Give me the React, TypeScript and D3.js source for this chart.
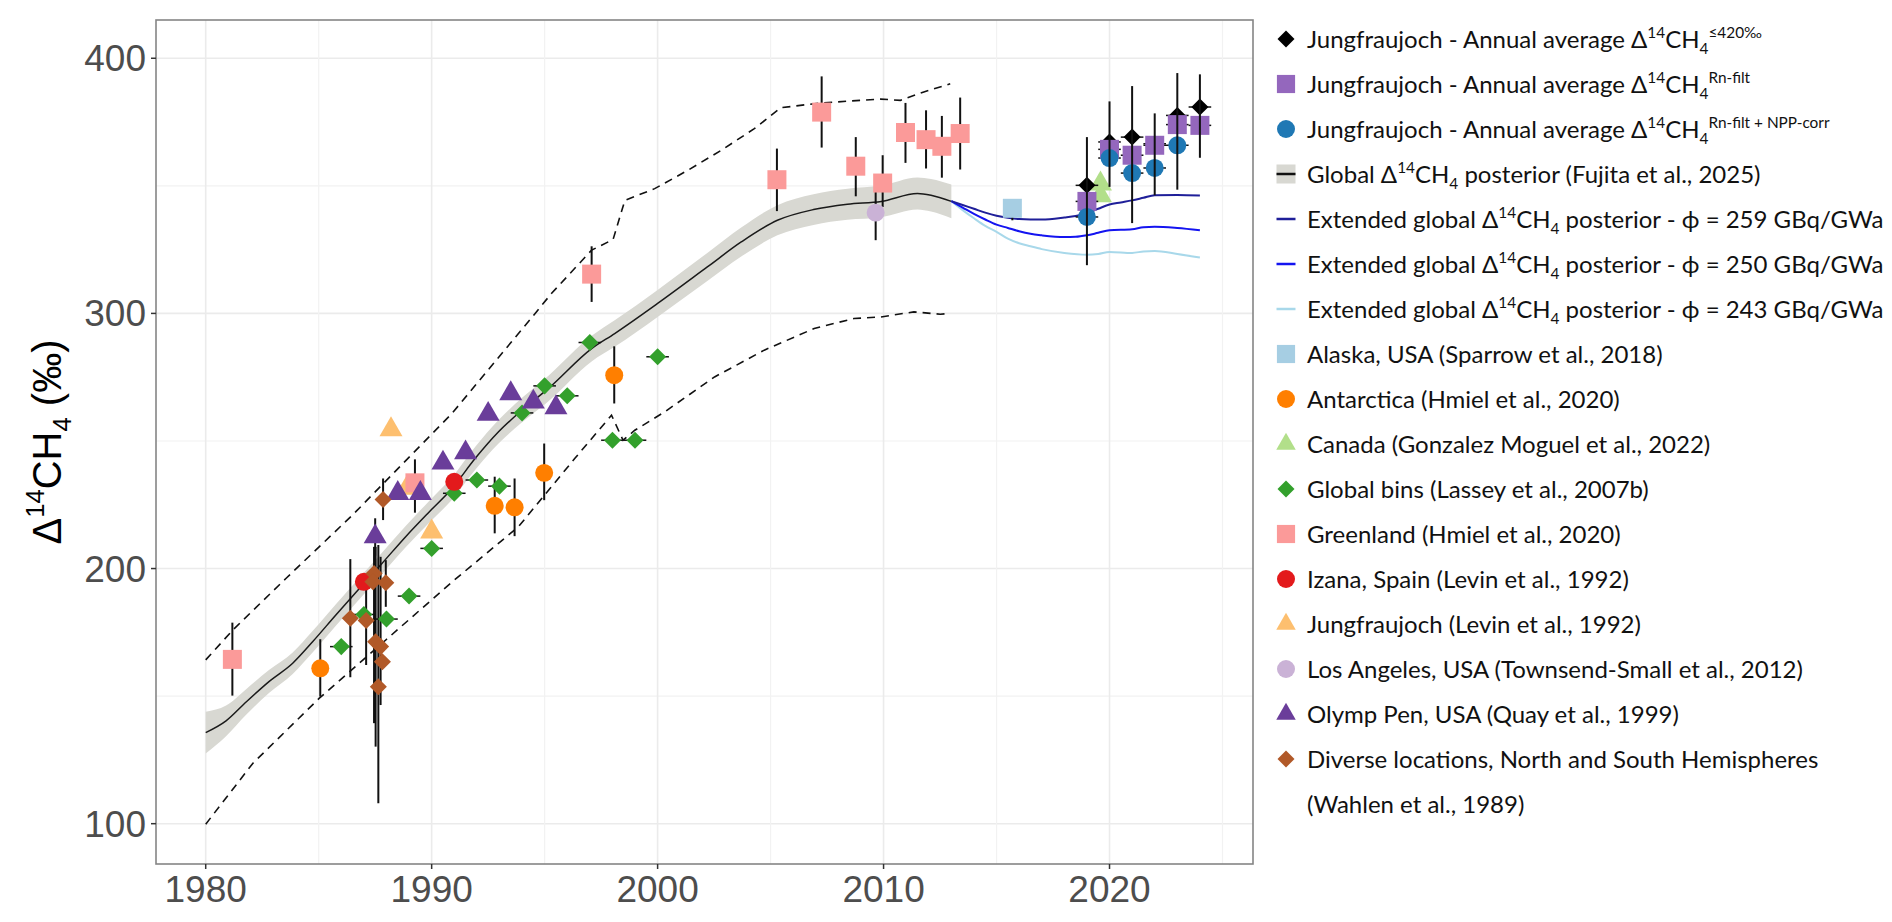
import React from "react";
import * as d3 from "d3";

// [year, value, lower, upper] - lower/upper only where an error bar is drawn
type Obs = [number, number, number?, number?];
type Seg = [string, ("sup" | "sub")?];

// ---- axes
const xTicks = [1980, 1990, 2000, 2010, 2020];
const yTicks = [100, 200, 300, 400];
const xGrid = [1980, 1985, 1990, 1995, 2000, 2005, 2010, 2015, 2020, 2025];
const yGrid = [100, 150, 200, 250, 300, 350, 400];

// ---- global posterior (Fujita et al., 2025): mean and half width of the band
const postYears = [1980, 1980.9, 1981.8, 1982.8, 1983.85, 1984.73, 1985.76, 1986.8, 1987.8, 1988.85, 1989.9, 1990.9, 1991.93, 1992.96, 1994, 1995.17, 1997.08, 1998.1, 2000, 2002.2, 2003.7, 2005.3, 2006.9, 2008.4, 2009.9, 2011.5, 2012.1, 2013];
const postMean = [135.7, 140.3, 147.8, 155.7, 162.9, 171.3, 181.8, 192.2, 202, 212.5, 222.3, 231.4, 243.2, 253.6, 262.1, 270.6, 286.2, 292.1, 303.9, 318.2, 328, 336.5, 340.7, 342.8, 343.9, 347, 346.3, 343.9];
const postHalf = [8.2, 6, 5, 4.5, 4.2, 4.2, 4.2, 4.2, 4.2, 4.2, 4.3, 4.4, 4.5, 4.6, 4.8, 5, 5, 5.2, 5.3, 5.5, 5.7, 5.9, 6, 6.1, 6.2, 6.3, 6.4, 6.6];

// dashed envelope
const upperBound: [number, number][] = [[1980, 164.2], [1981.2, 175.9], [1983.56, 196.2], [1986.5, 221], [1990.9, 260.8], [1994.58, 300], [1995.3, 307.8], [1997.08, 324.8], [1998.03, 329], [1998.55, 344.3], [1999.87, 348.9], [2001.34, 356.1], [2002.81, 363.9], [2004.28, 372.4], [2005.45, 380.6], [2006.93, 382.2], [2008.4, 383.2], [2009.87, 384], [2010.75, 383.5], [2011.78, 386.8], [2012.95, 390]];
const lowerBound: [number, number][] = [[1980, 99.8], [1982.09, 123.7], [1985.03, 149.2], [1987.97, 172], [1990.91, 194.8], [1993.84, 216.4], [1996.34, 243.2], [1997.96, 260.1], [1998.47, 250.3], [1998.99, 254.2], [2000.31, 261.4], [2002.52, 275.1], [2004.72, 285.6], [2006.93, 294.1], [2008.69, 298], [2009.87, 298.6], [2011.34, 300.6], [2012.51, 299.7], [2012.95, 300]];

// extended posteriors
const ext259: [number, number][] = [[2013, 344], [2013.5, 342.5], [2014, 341], [2014.5, 339.5], [2015, 338.3], [2015.5, 337.5], [2016, 337], [2017, 336.8], [2018, 337.6], [2018.5, 338.2], [2019, 339.3], [2019.5, 341], [2020, 342.7], [2020.5, 343.5], [2021, 344.3], [2021.5, 345.3], [2022, 346.3], [2023, 346.4], [2024, 346.2]];
const ext250: [number, number][] = [[2013, 344], [2013.5, 341.5], [2014, 339], [2014.5, 336.8], [2015, 334.8], [2015.5, 333.5], [2016, 332.2], [2016.5, 331.2], [2017, 330.6], [2018, 329.9], [2018.5, 330], [2019, 330.6], [2019.5, 331.6], [2020, 332.6], [2021, 333], [2021.5, 333.8], [2022, 334], [2023, 333.5], [2024, 332.6]];
const ext243: [number, number][] = [[2013, 344], [2013.5, 340.5], [2014, 337.3], [2014.5, 334.3], [2015, 332], [2015.5, 329.3], [2016, 327.5], [2016.5, 326.3], [2017, 325.2], [2018, 323.7], [2019, 323], [2019.5, 323.3], [2020, 324.1], [2021, 323.7], [2021.5, 324.3], [2022, 324.5], [2023, 323.3], [2024, 321.9]];

// ---- observations
const jf420: Obs[] = [[2019, 350.2, 318.9, 369.1], [2020, 367.2, 349.6, 383.1], [2021, 369.1, 335.4, 389.1], [2022, 366.5, 346.3, 378.4], [2023, 377.6, 348.5, 394.2], [2024, 380.9, 361, 393.7]];
const jfRnFilt: Obs[] = [[2019, 343.9], [2020, 364.3], [2021, 362], [2022, 365.9], [2023, 374], [2024, 373.7]];
const jfNppCorr: Obs[] = [[2019, 337.8], [2020, 360.9], [2021, 355], [2022, 357], [2023, 365.9]];
const alaska: Obs[] = [[2015.7, 341.2, 336.5, 343.5]];
const antarctica: Obs[] = [[1985.07, 160.9, 149.8, 172.3], [1992.79, 224.6, 213.8, 236], [1993.67, 224, 212.7, 235.3], [1994.98, 237.5, 226.8, 249], [1998.08, 275.8, 264.7, 287.1]];
const canada: Obs[] = [[2019.6, 350.8], [2019.6, 346.2]];
const globalBins: Obs[] = [[1986, 169.4], [1987, 182], [1988, 180.2], [1989, 189.2], [1990, 207.9], [1991, 229.5], [1992, 234.7], [1993, 232.3], [1994, 261], [1995, 271.6], [1996, 267.7], [1997, 288.6], [1998, 250.3], [1999, 250.3], [2000, 283]];
const greenland: Obs[] = [[1981.18, 164.4, 150.2, 178.8], [1989.26, 233.6, 221.9, 242.8], [1997.08, 315.4, 304.5, 326.3], [2005.28, 352.4, 340.1, 364.6], [2007.26, 378.9, 365, 392.9], [2008.77, 357.7, 345.9, 369.1], [2009.96, 351.1, 341.7, 362], [2010.97, 370.9, 359, 382.5], [2011.88, 368.1, 356.8, 379.6], [2012.58, 365.5, 353.2, 377.4], [2013.39, 370.5, 356.4, 384.6]];
const izana: Obs[] = [[1987, 194.8], [1991, 234]];
const jfLevin: Obs[] = [[1988.2, 254.5], [1988.9, 231.5], [1990, 214.4]];
const losAngeles: Obs[] = [[2009.65, 339.5, 328.7, 347.6]];
const olympPen: Obs[] = [[1987.5, 212.5, 205, 219.7], [1988.5, 229.5], [1989.5, 229.5], [1990.5, 241.4], [1991.5, 245.4], [1992.5, 260.5], [1993.5, 268.6], [1994.5, 265.3], [1995.5, 263.1]];
const wahlen: Obs[] = [[1986.4, 180.5, 157.4, 203.7], [1987.1, 179.6, 162.2, 191.6], [1987.45, 198.1, 139.4, 208.5], [1987.4, 194.8], [1987.52, 171.3, 130.2, 208.5], [1987.64, 153.7, 108, 209.2], [1987.74, 169.4, 146.5, 204.6], [1987.82, 163.5], [1987.97, 194.4, 185, 203.3], [1987.85, 227.1, 219, 235.3]];

// ---- legend labels
const legendLabels: Seg[][] = [
  [["Jungfraujoch - Annual average Δ"], ["14", "sup"], ["CH"], ["4", "sub"], ["≤420‰", "sup"]],
  [["Jungfraujoch - Annual average Δ"], ["14", "sup"], ["CH"], ["4", "sub"], ["Rn-filt", "sup"]],
  [["Jungfraujoch - Annual average Δ"], ["14", "sup"], ["CH"], ["4", "sub"], ["Rn-filt + NPP-corr", "sup"]],
  [["Global Δ"], ["14", "sup"], ["CH"], ["4", "sub"], [" posterior (Fujita et al., 2025)"]],
  [["Extended global Δ"], ["14", "sup"], ["CH"], ["4", "sub"], [" posterior - ϕ = 259 GBq/GWa"]],
  [["Extended global Δ"], ["14", "sup"], ["CH"], ["4", "sub"], [" posterior - ϕ = 250 GBq/GWa"]],
  [["Extended global Δ"], ["14", "sup"], ["CH"], ["4", "sub"], [" posterior - ϕ = 243 GBq/GWa"]],
  [["Alaska, USA (Sparrow et al., 2018)"]],
  [["Antarctica (Hmiel et al., 2020)"]],
  [["Canada (Gonzalez Moguel et al., 2022)"]],
  [["Global bins (Lassey et al., 2007b)"]],
  [["Greenland (Hmiel et al., 2020)"]],
  [["Izana, Spain (Levin et al., 1992)"]],
  [["Jungfraujoch (Levin et al., 1992)"]],
  [["Los Angeles, USA (Townsend-Small et al., 2012)"]],
  [["Olymp Pen, USA (Quay et al., 1999)"]],
  [["Diverse locations, North and South Hemispheres"]],
  [["(Wahlen et al., 1989)"]],
];

const AXIS_FONT = "'Liberation Sans', Arial, sans-serif";
const LEGEND_FONT = "Lato, 'Noto Sans', sans-serif";

type Shape = "diamond" | "square" | "circle" | "triangle";

const COL = {
  black: "#000000",
  purple: "#9467bd",
  blue: "#1f78b4",
  band: "#d8d8d2",
  e259: "#1f1f99",
  e250: "#1414f0",
  e243: "#a8d8ea",
  alaska: "#a6cee3",
  antarctica: "#ff7f00",
  canada: "#b2df8a",
  bins: "#33a02c",
  greenland: "#fb9a99",
  izana: "#e31a1c",
  jfLevin: "#fdbf6f",
  la: "#cab2d6",
  olymp: "#6a3d9a",
  wahlen: "#b15928",
};

// symbol areas in px^2 (d3.symbol size)
const AREA: Record<Shape, number> = { diamond: 145, square: 361, circle: 254, triangle: 229 };

function symbolPath(shape: Shape, area: number): string {
  const type =
    shape === "circle" ? d3.symbolCircle : shape === "triangle" ? d3.symbolTriangle : d3.symbolSquare;
  return d3.symbol(type, area)() as string;
}

// text with super/subscripts done by tspans
const RichText: React.FC<{ segs: Seg[]; x: number; y: number; size: number; font: string; fill: string; anchor?: string; transform?: string }> = ({ segs, x, y, size, font, fill, anchor, transform }) => {
  let cur = 0;
  return (
    <text x={x} y={y} fontSize={size} fontFamily={font} fill={fill} textAnchor={anchor} transform={transform} style={{ whiteSpace: "pre" }}>
      {segs.map(([t, k], i) => {
        const target = k === "sup" ? -0.42 * size : k === "sub" ? 0.26 * size : 0;
        const dy = target - cur;
        cur = target;
        return (
          <tspan key={i} dy={dy} fontSize={k ? size * 0.64 : size}>
            {t}
          </tspan>
        );
      })}
    </text>
  );
};

const App: React.FC = () => {
  const width = 1892;
  const height = 922;
  const plot = { left: 156, right: 1253, top: 20, bottom: 864 };

  const x = d3.scaleLinear().domain([1977.8, 2026.35]).range([plot.left, plot.right]);
  const y = d3.scaleLinear().domain([84.2, 415]).range([plot.bottom, plot.top]);

  const straight = d3.line<[number, number]>().x((d) => x(d[0])).y((d) => y(d[1]));
  const smooth = d3
    .line<[number, number]>()
    .x((d) => x(d[0]))
    .y((d) => y(d[1]))
    .curve(d3.curveMonotoneX);

  const band = d3
    .area<number>()
    .x((i) => x(postYears[i]))
    .y0((i) => y(postMean[i] - postHalf[i]))
    .y1((i) => y(postMean[i] + postHalf[i]))
    .curve(d3.curveMonotoneX);
  const idx = postYears.map((_, i) => i);
  const meanLine: [number, number][] = postYears.map((yr, i) => [yr, postMean[i]]);

  // point layers, back to front
  const layers: { data: Obs[]; shape: Shape; color: string; hbar?: boolean }[] = [
    { data: alaska, shape: "square", color: COL.alaska },
    { data: antarctica, shape: "circle", color: COL.antarctica },
    { data: canada, shape: "triangle", color: COL.canada },
    { data: globalBins, shape: "diamond", color: COL.bins, hbar: true },
    { data: jfLevin, shape: "triangle", color: COL.jfLevin },
    { data: greenland, shape: "square", color: COL.greenland },
    { data: izana, shape: "circle", color: COL.izana },
    { data: losAngeles, shape: "circle", color: COL.la },
    { data: olympPen, shape: "triangle", color: COL.olymp },
    { data: wahlen, shape: "diamond", color: COL.wahlen },
  ];
  const jfLayers: { data: Obs[]; shape: Shape; color: string }[] = [
    { data: jf420, shape: "diamond", color: COL.black },
    { data: jfRnFilt, shape: "square", color: COL.purple },
    { data: jfNppCorr, shape: "circle", color: COL.blue },
  ];

  const marker = (shape: Shape, color: string, cx: number, cy: number, area: number, key: React.Key) => (
    <path
      key={key}
      d={symbolPath(shape, area)}
      fill={color}
      transform={`translate(${cx},${cy})${shape === "diamond" ? " rotate(45)" : ""}`}
    />
  );

  const vbars = (data: Obs[], keyp: string) =>
    data
      .filter((d) => d[2] !== undefined)
      .map((d, i) => (
        <line key={`${keyp}${i}`} x1={x(d[0])} x2={x(d[0])} y1={y(d[2]!)} y2={y(d[3]!)} stroke="#111" strokeWidth={2} />
      ));
  const hbars = (data: Obs[], keyp: string) =>
    data.map((d, i) => (
      <line key={`${keyp}${i}`} x1={x(d[0] - 0.5)} x2={x(d[0] + 0.5)} y1={y(d[1])} y2={y(d[1])} stroke="#111" strokeWidth={1.5} />
    ));

  // legend
  const legX = 1286;
  const legTextX = 1307;
  const legY0 = 39;
  const legStep = 45;
  const legFont = 24;
  type Key = { kind: "shape"; shape: Shape; color: string } | { kind: "line"; color: string } | { kind: "band" } | { kind: "none" };
  const legendKeys: Key[] = [
    { kind: "shape", shape: "diamond", color: COL.black },
    { kind: "shape", shape: "square", color: COL.purple },
    { kind: "shape", shape: "circle", color: COL.blue },
    { kind: "band" },
    { kind: "line", color: COL.e259 },
    { kind: "line", color: COL.e250 },
    { kind: "line", color: COL.e243 },
    { kind: "shape", shape: "square", color: COL.alaska },
    { kind: "shape", shape: "circle", color: COL.antarctica },
    { kind: "shape", shape: "triangle", color: COL.canada },
    { kind: "shape", shape: "diamond", color: COL.bins },
    { kind: "shape", shape: "square", color: COL.greenland },
    { kind: "shape", shape: "circle", color: COL.izana },
    { kind: "shape", shape: "triangle", color: COL.jfLevin },
    { kind: "shape", shape: "circle", color: COL.la },
    { kind: "shape", shape: "triangle", color: COL.olymp },
    { kind: "shape", shape: "diamond", color: COL.wahlen },
    { kind: "none" },
  ];
  const legendArea: Record<Shape, number> = { diamond: 145, square: 330, circle: 254, triangle: 165 };

  return (
    <>
      <style>{"body{margin:0;overflow:hidden}"}</style>
      <svg width={width} height={height} style={{ display: "block", background: "#fff" }}>
        <defs>
          <clipPath id="panel">
            <rect x={plot.left} y={plot.top} width={plot.right - plot.left} height={plot.bottom - plot.top} />
          </clipPath>
        </defs>

        {/* grid */}
        <g>
          {yGrid.map((v) => (
            <line key={`gy${v}`} x1={plot.left} x2={plot.right} y1={y(v)} y2={y(v)} stroke={v % 100 === 0 ? "#ebebeb" : "#f2f2f2"} strokeWidth={v % 100 === 0 ? 1.6 : 1.2} />
          ))}
          {xGrid.map((v) => (
            <line key={`gx${v}`} x1={x(v)} x2={x(v)} y1={plot.top} y2={plot.bottom} stroke={v % 10 === 0 ? "#ebebeb" : "#f2f2f2"} strokeWidth={v % 10 === 0 ? 1.6 : 1.2} />
          ))}
        </g>

        <g clipPath="url(#panel)">
          {/* posterior band and mean */}
          <path d={band(idx) as string} fill={COL.band} />
          <path d={smooth(meanLine) as string} fill="none" stroke="#1a1a1a" strokeWidth={1.5} />
          {/* envelope */}
          <path d={straight(upperBound) as string} fill="none" stroke="#111" strokeWidth={1.6} strokeDasharray="8,6" />
          <path d={straight(lowerBound) as string} fill="none" stroke="#111" strokeWidth={1.6} strokeDasharray="8,6" />
          {/* extended posteriors */}
          <path d={smooth(ext243) as string} fill="none" stroke={COL.e243} strokeWidth={2} />
          <path d={smooth(ext250) as string} fill="none" stroke={COL.e250} strokeWidth={2} />
          <path d={smooth(ext259) as string} fill="none" stroke={COL.e259} strokeWidth={2} />

          {/* error bars under points */}
          {layers.map((l, li) => (
            <g key={`eb${li}`}>
              {vbars(l.data, `v${li}-`)}
              {l.hbar ? hbars(l.data, `h${li}-`) : null}
            </g>
          ))}
          {layers.map((l, li) => (
            <g key={`pt${li}`}>{l.data.map((d, i) => marker(l.shape, l.color, x(d[0]), y(d[1]), AREA[l.shape], i))}</g>
          ))}

          {/* Jungfraujoch annual averages: short horizontal bars under, vertical bars over */}
          {jfLayers.map((l, li) => (
            <g key={`jfh${li}`}>{hbars(l.data, `jh${li}-`)}</g>
          ))}
          {jfLayers.map((l, li) => (
            <g key={`jf${li}`}>{l.data.map((d, i) => marker(l.shape, l.color, x(d[0]), y(d[1]), AREA[l.shape], i))}</g>
          ))}
          {vbars(jf420, "jv")}
        </g>

        {/* panel border */}
        <rect x={plot.left} y={plot.top} width={plot.right - plot.left} height={plot.bottom - plot.top} fill="none" stroke="#858585" strokeWidth={1.6} />

        {/* axes */}
        <g fontFamily={AXIS_FONT} fontSize={37} fill="#4d4d4d">
          {xTicks.map((t) => (
            <g key={`xt${t}`}>
              <line x1={x(t)} x2={x(t)} y1={plot.bottom} y2={plot.bottom + 5} stroke="#333" strokeWidth={1.5} />
              <text x={x(t)} y={plot.bottom + 38} textAnchor="middle">
                {t}
              </text>
            </g>
          ))}
          {yTicks.map((t) => (
            <g key={`yt${t}`}>
              <line x1={plot.left - 5} x2={plot.left} y1={y(t)} y2={y(t)} stroke="#333" strokeWidth={1.5} />
              <text x={plot.left - 10} y={y(t) + 13} textAnchor="end">
                {t}
              </text>
            </g>
          ))}
        </g>
        <RichText
          segs={[["Δ"], ["14", "sup"], ["CH"], ["4", "sub"], [" (‰)"]]}
          x={0}
          y={0}
          size={40}
          font={AXIS_FONT}
          fill="#000"
          anchor="middle"
          transform={`translate(61,${(plot.top + plot.bottom) / 2}) rotate(-90)`}
        />

        {/* legend */}
        <g>
          {legendKeys.map((k, i) => {
            const cy = legY0 + i * legStep;
            let key: React.ReactNode = null;
            if (k.kind === "shape") key = marker(k.shape, k.color, legX, cy, legendArea[k.shape], "m");
            else if (k.kind === "line") key = <line x1={legX - 9.5} x2={legX + 9.5} y1={cy} y2={cy} stroke={k.color} strokeWidth={2.5} />;
            else if (k.kind === "band")
              key = (
                <g>
                  <rect x={legX - 9.5} y={cy - 9.5} width={19} height={19} fill={COL.band} />
                  <line x1={legX - 9.5} x2={legX + 9.5} y1={cy} y2={cy} stroke="#111" strokeWidth={2.5} />
                </g>
              );
            return (
              <g key={`lg${i}`}>
                {key}
                <RichText segs={legendLabels[i]} x={legTextX} y={cy + 0.36 * legFont} size={legFont} font={LEGEND_FONT} fill="#111" />
              </g>
            );
          })}
        </g>
      </svg>
    </>
  );
};

export default App;
